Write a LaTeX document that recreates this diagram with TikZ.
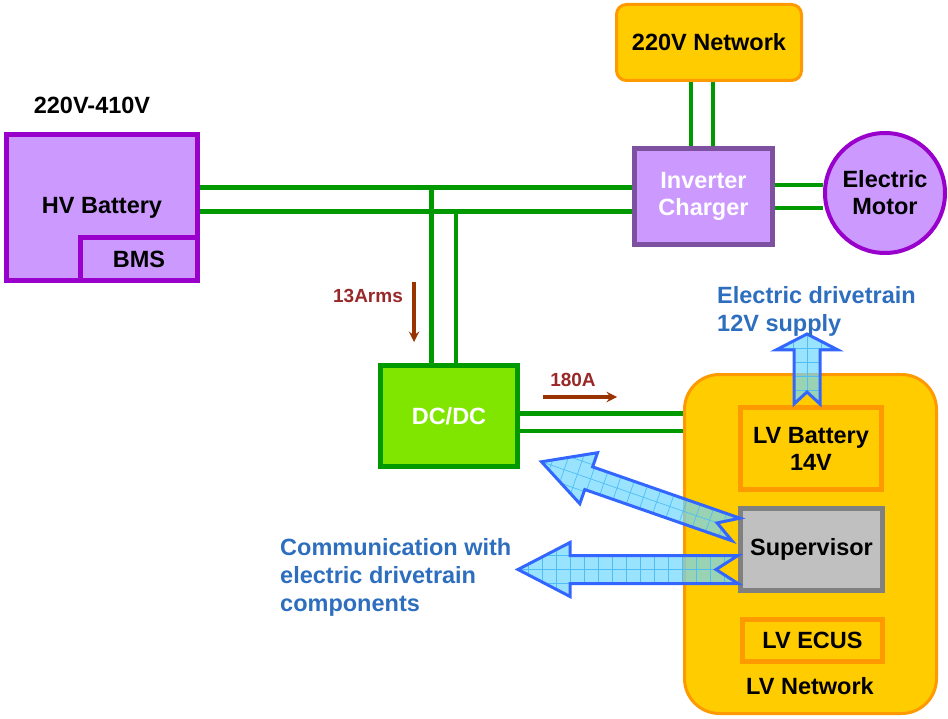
\documentclass[tikz,border=0pt]{standalone}
\usepackage{fontspec}
\setmainfont{Liberation Sans}
\usetikzlibrary{arrows, positioning, calc}

\definecolor{hvpurple}{RGB}{204,153,255}
\definecolor{hvborder}{RGB}{153,0,204}
\definecolor{invborder}{RGB}{125,80,160}
\definecolor{linegreen}{RGB}{0,153,0}
\definecolor{dcgreen}{RGB}{128,230,0}
\definecolor{lvyellow}{RGB}{255,204,0}
\definecolor{lvorange}{RGB}{255,153,0}
\definecolor{supgrey}{RGB}{192,192,192}
\definecolor{supborder}{RGB}{128,128,128}
\definecolor{currentbrown}{RGB}{153,51,0}
\definecolor{labelred}{RGB}{153,40,40}
\definecolor{textblue}{RGB}{46,110,190}
\definecolor{arrowcyan}{RGB}{110,215,255}
\definecolor{arrowblue}{RGB}{51,102,255}
\definecolor{gridcyan}{RGB}{80,190,245}

\begin{document}
\begin{tikzpicture}[
    x=1pt, y=-1pt,
    font=\fontsize{23.5}{27}\selectfont\bfseries,
    box/.style={rectangle, line width=5pt, inner sep=0pt, align=center},
    hvbox/.style={box, draw=hvborder, fill=hvpurple},
    netbox/.style={rectangle, rounded corners=10pt, line width=3pt, draw=lvorange, fill=lvyellow, inner sep=0pt, align=center},
    lvbox/.style={box, draw=lvorange, fill=lvyellow},
    bus/.style={draw=linegreen, line width=5pt},
    thinbus/.style={draw=linegreen, line width=4pt},
    current/.style={draw=currentbrown, line width=3.5pt, ->, >=stealth},
    currentlabel/.style={text=labelred, font=\fontsize{19}{22}\selectfont\bfseries},
    bluetext/.style={text=textblue, align=left, inner sep=0pt, font=\fontsize{23.5}{28}\selectfont\bfseries},
    fatarrow/.style={draw=arrowblue, line width=3pt, line join=miter, fill=arrowcyan, fill opacity=0.7,
        path picture={\draw[gridcyan, line width=0.7pt, xstep=14pt, ystep=14pt] (-20,-45) grid (250,45);}}
]
\useasboundingbox (0,0) rectangle (948,719);

\node (hvlabel) at (92,105) {220V-410V};
\node (hvbat) [hvbox, minimum width=191pt, minimum height=146pt] at (102,208) {HV Battery};
\node (bms) [hvbox, minimum width=117pt, minimum height=43pt] at (139,259) {BMS};

\node (net) [netbox, minimum width=185pt, minimum height=76pt] at (709,42.5) {220V Network};
\node (inv) [box, draw=invborder, fill=hvpurple, text=white, minimum width=138pt, minimum height=96pt] at (703.5,196.5) {Inverter\\Charger};
\node (motor) [circle, draw=hvborder, fill=hvpurple, line width=4pt, minimum size=120pt, inner sep=0pt, align=center] at (885,193) {Electric\\Motor};

\node (dcdc) [box, draw=linegreen, fill=dcgreen, text=white, minimum width=137pt, minimum height=101pt] at (449,416) {DC/DC};

\node (lvnet) [netbox, rounded corners=35pt, minimum width=252pt, minimum height=339pt] at (810.5,544) {};
\node (lvlabel) at (810,686) {LV Network};

\coordinate (busa) at (431,188);
\coordinate (busb) at (456,212);
\coordinate (acin) at (691,0);
\coordinate (acout) at (713,0);
\coordinate (motora) at (0,185);
\coordinate (motorb) at (0,208);
\coordinate (lva) at (0,413);
\coordinate (lvb) at (0,431);

\draw [bus] (hvbat.east |- busa) -- (inv.west |- busa);
\draw [bus] (hvbat.east |- busb) -- (inv.west |- busb);
\draw [bus] (busa) -- (busa |- dcdc.north);
\draw [thinbus] (busb) -- (busb |- dcdc.north);
\draw [thinbus] (acin |- net.south) -- (acin |- inv.north);
\draw [thinbus] (acout |- net.south) -- (acout |- inv.north);
\draw [thinbus] (inv.east |- motora) -- (motor.west |- motora);
\draw [thinbus] (inv.east |- motorb) -- (motor.west |- motorb);
\draw [bus] (dcdc.east |- lva) -- (lvnet.west |- lva);
\draw [thinbus] (dcdc.east |- lvb) -- (lvnet.west |- lvb);

\node (armslabel) [currentlabel] at (368,296) {13Arms};
\coordinate (arms) at (414,282);
\draw [current] (arms) -- ++(0,60);
\node (amplabel) [currentlabel] at (573,380) {180A};
\coordinate (amps) at (543,397);
\draw [current] (amps) -- ++(74,0);

\node (lvbat) [lvbox, minimum width=141pt, minimum height=82pt] at (811,448.5) {LV Battery\\14V};
\node (superv) [box, draw=supborder, fill=supgrey, minimum width=142pt, minimum height=82pt] at (811.5,549.5) {Supervisor};
\node (lvecu) [lvbox, minimum width=140pt, minimum height=42pt] at (812.5,640.5) {LV ECUS};

\begin{scope}[shift={($(lvbat.north)+(-4,-1)$)}, rotate=90]
  \path [fatarrow] (0,13) -- (54,13) -- (54,31) -- (70,0) -- (54,-31) -- (54,-13) -- (0,-13) -- (12,0) -- cycle;
\end{scope}
\begin{scope}[shift={($(superv.west)+(-2,-20)$)}, rotate=160.8]
  \path [fatarrow] (0,12) -- (156,12) -- (156,27) -- (206,0) -- (156,-27) -- (156,-12) -- (0,-12) -- (20,0) -- cycle;
\end{scope}
\begin{scope}[shift={($(superv.west)+(0,20)$)}, rotate=180]
  \path [fatarrow] (0,14) -- (168,14) -- (168,27) -- (220,0) -- (168,-27) -- (168,-14) -- (0,-14) -- (22,0) -- cycle;
\end{scope}

\node (supply) [bluetext, anchor=west] at (717,311) {Electric drivetrain\\12V supply};
\node (comm) [bluetext, anchor=west] at (280,577) {Communication with\\electric drivetrain\\components};

\end{tikzpicture}
\end{document}
